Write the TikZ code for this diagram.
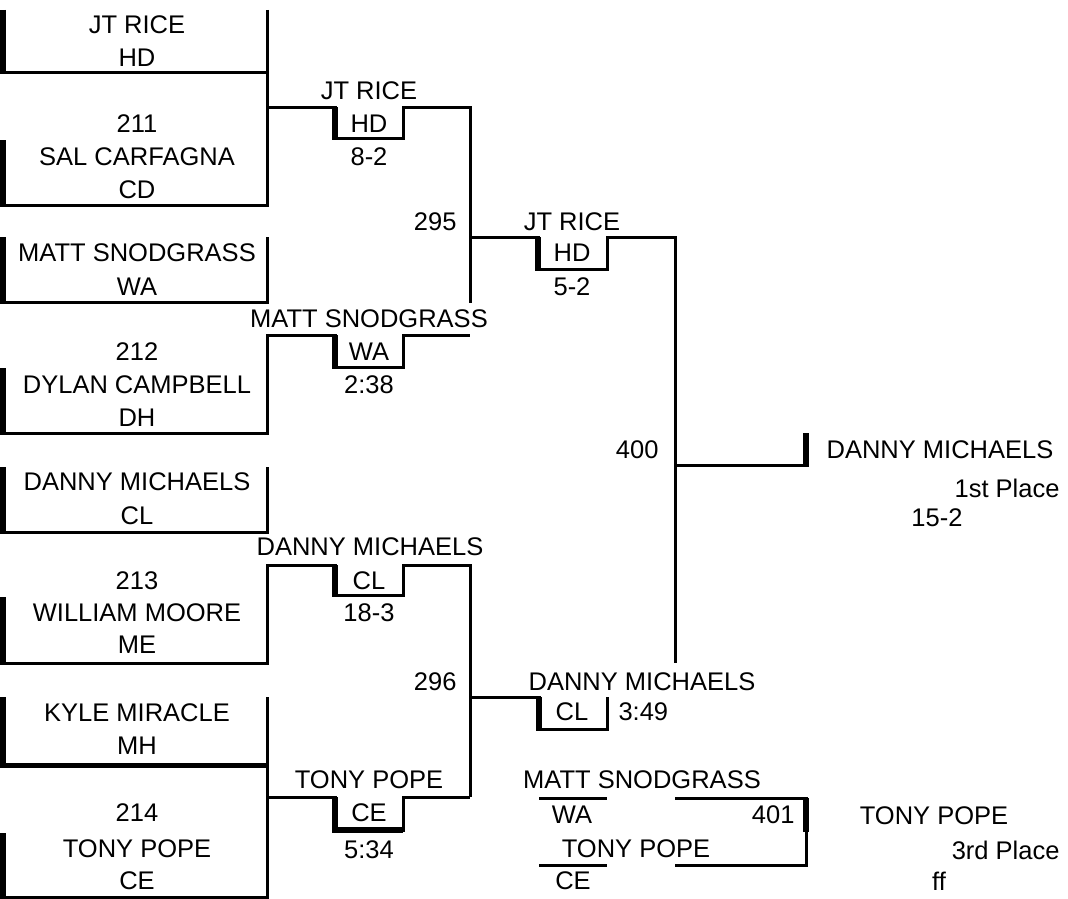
\documentclass[tikz,border=0pt]{standalone}
\usepackage{fontspec}
\setmainfont{Liberation Sans}
\begin{document}
\begin{tikzpicture}[x=1pt, y=-1pt, line width=3pt,
  every node/.style={font=\fontsize{25.5}{30}\selectfont, inner sep=0pt},
  bar/.style={line width=6pt}]
\useasboundingbox (0,0) rectangle (1068,899);
% first round, bout 211
\node (rice) at (137,25) {JT RICE};
\node (riceteam) at (137,58) {HD};
\node (b211) at (137,124) {211};
\node (carfagna) at (137,157) {SAL CARFAGNA};
\node (carfagnateam) at (137,190) {CD};
\draw[bar] (3,10) -- (3,74.5);
\draw (0,73) -- (267,73);
\draw (267,10) -- (267,205) -- (0,205);
\draw[bar] (3,140) -- (3,206.5);
\draw (267,107) -- (335,107) -- (335,138) -- (403,138) -- (403,107) -- (470,107) -- (470,303);
\draw[bar] (335,107) -- (335,139.5);
\node (w211) at (369,91) {JT RICE};
\node (w211team) at (369,124) {HD};
\node (s211) at (369,157) {8-2};
% bout 212
\node (snod) at (137,253) {MATT SNODGRASS};
\node (snodteam) at (137,287) {WA};
\node (b212) at (137,352) {212};
\node (campbell) at (137,385) {DYLAN CAMPBELL};
\node (campbellteam) at (137,418) {DH};
\draw[bar] (3,237) -- (3,303.5);
\draw (0,302) -| (267,237);
\draw[bar] (3,368) -- (3,434.5);
\draw (0,433) -| (267,335) -- (335,335) -- (335,367) -- (403,367) -- (403,335) -- (470,335);
\draw[bar] (335,335) -- (335,368.5);
\node (w212) at (369,319) {MATT SNODGRASS};
\node (w212team) at (369,352) {WA};
\node (s212) at (369,385) {2:38};
% bout 213
\node (michaels) at (137,482) {DANNY MICHAELS};
\node (michaelsteam) at (137,516) {CL};
\node (b213) at (137,581) {213};
\node (moore) at (137,613) {WILLIAM MOORE};
\node (mooreteam) at (137,645) {ME};
\draw[bar] (3,467) -- (3,533.5);
\draw (0,532) -| (267,467);
\draw[bar] (3,597) -- (3,664.5);
\draw (0,663) -| (267,565) -- (335,565) -- (335,595) -- (403,595) -- (403,565) -- (470,565) -- (470,797);
\draw[bar] (335,565) -- (335,596.5);
\node (w213) at (370,547) {DANNY MICHAELS};
\node (w213team) at (369,581) {CL};
\node (s213) at (369,613) {18-3};
% bout 214
\node (miracle) at (137,713) {KYLE MIRACLE};
\node (miracleteam) at (137,746) {MH};
\node (b214) at (137,813) {214};
\node (pope) at (137,849) {TONY POPE};
\node (popeteam) at (137,881) {CE};
\draw[bar] (3,697) -- (3,767);
\draw[line width=5pt] (0,765) -- (267,765);
\draw (267,697) -- (267,897) -- (0,897);
\draw[bar] (3,833) -- (3,898.5);
\draw (267,797) -- (335,797) -- (335,830) -- (403,830) -- (403,797) -- (470,797);
\draw[bar] (335,797) -- (335,830) -- (403,830);
\node (w214) at (369,780) {TONY POPE};
\node (w214team) at (369,813) {CE};
\node (s214) at (369,850) {5:34};
% semifinals
\node[anchor=east] (b295) at (458,222) {295};
\draw (470,237) -- (538,237) -- (538,269) -- (607,269) -- (607,237) -- (675,237) -- (675,663);
\draw[bar] (538,237) -- (538,270.5);
\node (w295) at (572,222) {JT RICE};
\node (w295team) at (572,253) {HD};
\node (s295) at (572,287) {5-2};
\node[anchor=east] (b296) at (458,682) {296};
\draw (470,697) -- (539,697) -- (539,729) -- (607,729) -- (607,697);
\draw[bar] (539,697) -- (539,730.5);
\node (w296) at (642,682) {DANNY MICHAELS};
\node (w296team) at (572,712) {CL};
\node[anchor=west] (s296) at (617,712) {3:49};
% final
\node[anchor=east] (b400) at (660,450) {400};
\draw (675,465) -- (806,465);
\draw[bar] (806,433) -- (806,466.5);
\node (first) at (940,450) {DANNY MICHAELS};
\node[anchor=east] (firstlabel) at (1061,488) {1st Place};
\node (s400) at (937,518) {15-2};
% third place
\node (t401a) at (642,780) {MATT SNODGRASS};
\node (t401ateam) at (572,815) {WA};
\node (t401b) at (636,849) {TONY POPE};
\node (t401bteam) at (573,881) {CE};
\draw (539,798) -- (607,798);
\draw (539,865) -- (607,865);
\draw (675,798) -- (806,798) -- (806,865) -- (675,865);
\draw[bar] (806,798) -- (806,832);
\node[anchor=east] (b401) at (796,815) {401};
\node (third) at (934,816) {TONY POPE};
\node[anchor=east] (thirdlabel) at (1061,850) {3rd Place};
\node (s401) at (939,881) {ff};
\end{tikzpicture}
\end{document}
